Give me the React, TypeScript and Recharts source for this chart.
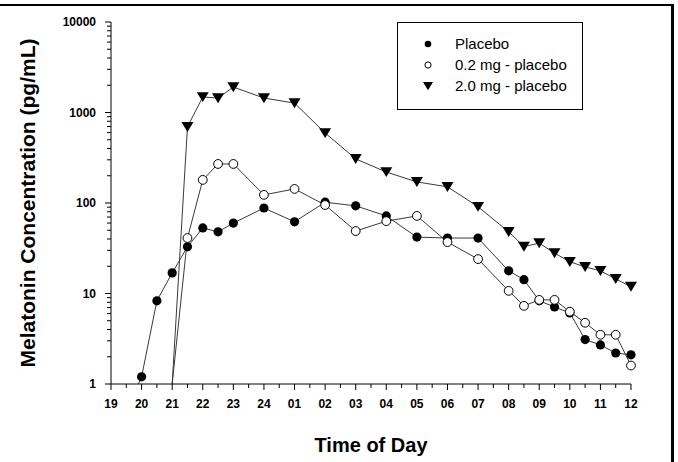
import React from "react";
import { LineChart, Line, XAxis, YAxis, Legend, Label } from "recharts";

// hours after 19:00
const hours = [0.5, 1, 1.5, 2, 2.5, 3, 3.5, 4, 5, 6, 7, 8, 9, 10, 11, 12, 13, 13.5, 14, 14.5, 15, 15.5, 16, 16.5, 17];
const placebo = [0.5, 1.2, 8.3, 16.9, 32.8, 53, 48, 60, 88, 62, 102, 93, 72, 42, 41, 41, 17.8, 14.2, 8.3, 7.1, 6.1, 3.1, 2.7, 2.2, 2.1];
const lowDose = [null, null, null, 1, 41, 180, 270, 270, 123, 143, 95, 49, 63, 72, 37, 24, 10.7, 7.3, 8.5, 8.5, 6.3, 4.75, 3.5, 3.5, 1.6];
const highDose = [null, null, null, 1, 695, 1485, 1445, 1910, 1445, 1270, 594, 307, 220, 171, 151, 91, 48, 33, 36, 28, 22.4, 19.7, 17.8, 14.5, 11.9];

const xTickLabels = ["19", "20", "21", "22", "23", "24", "01", "02", "03", "04", "05", "06", "07", "08", "09", "10", "11", "12"];
const yMajorTicks = [1, 10, 100, 1000, 10000];

const seriesNames = ["Placebo", "0.2 mg - placebo", "2.0 mg - placebo"];

const data = hours.map((h, i) => ({
  h,
  placebo: placebo[i],
  low: lowDose[i],
  high: highDose[i],
}));

// half-hour ticks, labels on the hour
const xTicks = xTickLabels.flatMap((_, i) => (i < xTickLabels.length - 1 ? [i, i + 0.5] : [i]));
// log minor ticks 1..9 per decade
const yTicks = yMajorTicks.flatMap((d, i) =>
  i < yMajorTicks.length - 1 ? [1, 2, 3, 4, 5, 6, 7, 8, 9].map((m) => m * d) : [d]
);

const FONT = "'Liberation Sans', Arial, Helvetica, sans-serif";
const LINE = "#3a3a3a";

const Triangle = ({ cx, cy, s }: { cx: number; cy: number; s: number }) => (
  <path d={`M${cx - s},${cy - s * 0.8} L${cx + s},${cy - s * 0.8} L${cx},${cy + s * 0.85} Z`} fill="#000" />
);

const hidden = (p: any) => p.cx == null || p.cy == null || p.value == null || p.value <= 1;

const filledDot = (p: any) =>
  hidden(p) ? <g key={p.index} /> : <circle key={p.index} cx={p.cx} cy={p.cy} r={4.6} fill="#000" />;
const openDot = (p: any) =>
  hidden(p) ? (
    <g key={p.index} />
  ) : (
    <circle key={p.index} cx={p.cx} cy={p.cy} r={4.4} fill="#fff" stroke="#000" strokeWidth={1} />
  );
const triDot = (p: any) =>
  hidden(p) ? <g key={p.index} /> : <Triangle key={p.index} cx={p.cx} cy={p.cy} s={6} />;

const XTick = (p: any) => {
  const v = p.payload.value;
  const major = Number.isInteger(v);
  return (
    <g>
      <line x1={p.x} y1={p.y} x2={p.x} y2={p.y + (major ? 6 : 4)} stroke="#000" />
      {major && (
        <text x={p.x} y={p.y + 24} textAnchor="middle" fontSize={12} fontWeight="bold" fontFamily={FONT} fill="#000">
          {xTickLabels[v]}
        </text>
      )}
    </g>
  );
};

const YTick = (p: any) => {
  const v = p.payload.value;
  const major = yMajorTicks.includes(v);
  return (
    <g>
      <line x1={p.x - (major ? 6 : 4)} y1={p.y} x2={p.x} y2={p.y} stroke="#000" />
      {major && (
        <text x={p.x - 15} y={p.y + 4} textAnchor="end" fontSize={12} fontWeight="bold" fontFamily={FONT} fill="#000">
          {v}
        </text>
      )}
    </g>
  );
};

const renderLegend = () => (
  <div style={{ border: "1px solid #000", width: 184, height: 86, background: "#fff" }}>
    <svg width={184} height={86}>
      {seriesNames.map((name, i) => {
        const cy = 21 + i * 21;
        return (
          <g key={name}>
            {i === 0 && <circle cx={30} cy={cy} r={3.3} fill="#000" />}
            {i === 1 && <circle cx={30} cy={cy} r={3.1} fill="#fff" stroke="#000" />}
            {i === 2 && <Triangle cx={30} cy={cy} s={5} />}
            <text x={57} y={cy + 5} fontSize={15} fontFamily={FONT} fill="#000">
              {name}
            </text>
          </g>
        );
      })}
    </svg>
  </div>
);

export default function App() {
  return (
    <div style={{ position: "absolute", left: 0, top: 0, width: 678, height: 462, background: "#fff" }}>
      <div style={{ position: "absolute", left: 0, top: 4, width: 674, height: 2, background: "#000" }} />
      <div style={{ position: "absolute", left: 671, top: 4, width: 3, height: 458, background: "#000" }} />
      <LineChart width={678} height={462} data={data} margin={{ top: 22, right: 47, bottom: 38, left: 0 }}>
        <XAxis
          dataKey="h"
          type="number"
          domain={[0, 17]}
          ticks={xTicks}
          interval={0}
          tick={XTick}
          tickLine={false}
          tickSize={0}
          tickMargin={0}
          height={40}
          axisLine={{ stroke: "#000" }}
        >
          <Label
            content={(lp: any) => {
              const vb = lp.viewBox;
              return (
                <text x={vb.x + vb.width / 2} y={vb.y + 68} textAnchor="middle" fontSize={20} fontWeight="bold" fontFamily={FONT} fill="#000">
                  Time of Day
                </text>
              );
            }}
          />
        </XAxis>
        <YAxis
          scale="log"
          domain={[1, 10000]}
          allowDataOverflow
          ticks={yTicks}
          interval={0}
          tick={YTick}
          tickLine={false}
          tickSize={0}
          tickMargin={0}
          width={111}
          axisLine={{ stroke: "#000" }}
        >
          <Label
            content={(lp: any) => {
              const vb = lp.viewBox;
              const cy = vb.y + vb.height / 2;
              return (
                <text x={27} y={cy} transform={`rotate(-90 27 ${cy})`} textAnchor="middle" dominantBaseline="central" fontSize={21} fontWeight="bold" fontFamily={FONT} fill="#000">
                  Melatonin Concentration (pg/mL)
                </text>
              );
            }}
          />
        </YAxis>
        <Legend
          layout="vertical"
          align="center"
          verticalAlign="middle"
          content={renderLegend}
          wrapperStyle={{ left: 397, top: 22, width: 186, height: 88 }}
        />
        <Line dataKey="placebo" stroke={LINE} strokeWidth={1} dot={filledDot} isAnimationActive={false} />
        <Line dataKey="low" stroke={LINE} strokeWidth={1} dot={openDot} isAnimationActive={false} />
        <Line dataKey="high" stroke={LINE} strokeWidth={1} dot={triDot} isAnimationActive={false} />
      </LineChart>
    </div>
  );
}
